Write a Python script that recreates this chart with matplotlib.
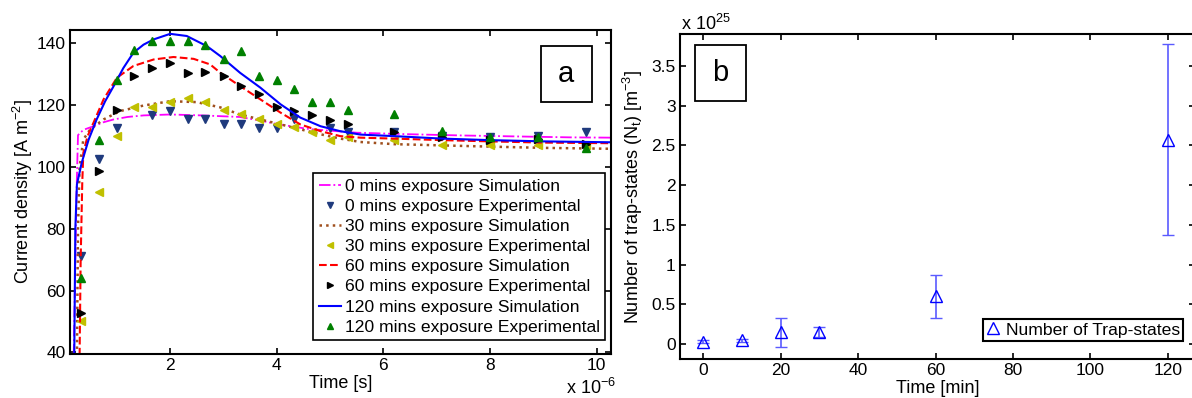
import matplotlib
matplotlib.use("Agg")
import matplotlib.pyplot as plt
from matplotlib.patches import Rectangle
import numpy as np

plt.rcParams['font.family'] = ['Liberation Sans', 'DejaVu Sans']
plt.rcParams['mathtext.fontset'] = 'custom'
plt.rcParams['mathtext.rm'] = 'Liberation Sans'
plt.rcParams['mathtext.it'] = 'Liberation Sans:italic'

# ---- panel a: current density transients (time in units of 1e-6 s)
t_exp = [0.33, 0.66, 1.0, 1.33, 1.66, 2.0, 2.33, 2.66, 3.0, 3.33, 3.66,
         4.0, 4.33, 4.66, 5.0, 5.33, 6.2, 7.1, 8.0, 8.9, 9.8]
exp_0 = [71.2, 102.7, 112.7, np.nan, 116.8, 118.0, 115.4, 115.4, 113.9, 113.9, 112.7,
         112.7, 115.4, np.nan, 112.6, 111.3, 111.4, 110.0, 109.8, 110.0, 111.3]
exp_30 = [50.1, 91.9, 109.9, 119.5, 119.5, 121.1, 122.4, 121.0, 118.3, 117.0, 115.4,
          113.9, 112.9, 111.3, 108.6, 109.8, 108.6, 107.1, 107.1, 107.1, 107.1]
exp_60 = [52.7, 98.6, 118.3, 129.3, 132.0, 133.6, 130.5, 130.6, 129.3, 126.3, 123.5,
          119.5, 118.2, 116.8, 115.3, 114.0, 111.3, 109.8, 108.8, 109.0, 107.5]
exp_120 = [64.0, 108.7, 128.1, 137.8, 140.9, 140.9, 140.9, 139.4, 135.1, 137.5, 129.4,
           128.3, 125.3, 121.2, 121.2, 118.4, 117.0, 111.6, 109.6, 109.8, 106.0]

t_sim_0 = [0.19, 0.24, 0.27, 0.32, 0.40, 0.56, 0.75, 0.94, 1.2, 1.5, 2.0, 2.6, 3.3,
           3.7, 4.0, 4.6, 5.5, 6.5, 7.5, 8.5, 9.5, 10.3]
sim_0 = [39, 90, 110.3, 111.3, 112.2, 113.2, 114.5, 115.4, 116.2, 116.7, 117.0, 116.7,
         116.2, 115.0, 113.9, 112.3, 111.1, 110.6, 110.2, 109.9, 109.6, 109.5]
t_sim_30 = [0.25, 0.27, 0.30, 0.37, 0.5, 0.75, 1.06, 1.5, 2.0, 2.5, 2.94, 3.31, 3.69,
            4.07, 4.44, 4.82, 5.19, 5.57, 6.2, 7.1, 8.0, 9.0, 10.3]
sim_30 = [39, 80, 100, 108.9, 112.2, 115.4, 118.1, 119.9, 121.3, 121.0, 119.3, 117.0,
          115.4, 113.8, 112.2, 110.6, 109.2, 108.1, 107.4, 107.0, 106.6, 106.2, 105.9]
t_sim_60 = [0.30, 0.32, 0.35, 0.37, 0.45, 0.56, 0.75, 1.0, 1.31, 1.69, 2.06, 2.44, 2.75,
            2.94, 3.31, 3.69, 4.07, 4.44, 4.82, 5.19, 5.57, 6.2, 7.1, 8.0, 9.0, 10.3]
sim_60 = [39, 70, 95, 104.6, 110.0, 114.3, 121.9, 128.9, 132.7, 134.8, 135.6, 135.0, 133.2,
          130.5, 126.2, 121.9, 117.6, 113.8, 111.6, 110.0, 109.5, 109.2, 108.7, 108.3, 107.9, 107.7]
t_sim_120 = [0.20, 0.22, 0.25, 0.34, 0.47, 0.62, 0.78, 0.94, 1.12, 1.31, 1.5, 1.69, 2.0,
             2.31, 2.69, 2.94, 3.31, 3.69, 4.07, 4.44, 4.82, 5.19, 5.57, 6.2, 7.1, 8.0, 9.0, 10.3]
sim_120 = [39, 80, 94.4, 101.4, 108.9, 115.4, 121.3, 126.2, 132.0, 137.0, 139.6, 141.3, 143.1,
           142.4, 139.1, 135.9, 130.5, 125.7, 120.3, 116.0, 113.2, 111.6, 110.5, 110.0, 109.2,
           108.7, 108.3, 108.0]

# ---- panel b: trap-state density (units of 1e25 m^-3)
exposure_min = [0, 10, 20, 30, 60, 120]
trap_states = [0.03, 0.05, 0.15, 0.15, 0.6, 2.57]
trap_err = [0.02, 0.02, 0.18, 0.06, 0.265, 1.2]

fig = plt.figure(figsize=(11.92, 3.98), dpi=100)
W, H = 1192, 398

def px_axes(l, t, r, b):
    return fig.add_axes([l / W, 1 - b / H, (r - l) / W, (b - t) / H])

ax = px_axes(70, 29.5, 611, 354)
ax.plot(t_sim_0, sim_0, color='#ff00ff', ls='-.', lw=1.3, label='0 mins exposure Simulation')
ax.plot(t_exp, exp_0, ls='none', marker='v', ms=5.5, color='#1f3a7d', label='0 mins exposure Experimental')
ax.plot(t_sim_30, sim_30, color='#a0501e', ls=':', lw=1.8, label='30 mins exposure Simulation')
ax.plot(t_exp, exp_30, ls='none', marker='<', ms=5.5, color='#c0c000', label='30 mins exposure Experimental')
ax.plot(t_sim_60, sim_60, color='#ff0000', ls='--', lw=1.5, label='60 mins exposure Simulation')
ax.plot(t_exp, exp_60, ls='none', marker='>', ms=5.5, color='black', label='60 mins exposure Experimental')
ax.plot(t_sim_120, sim_120, color='#0000ff', ls='-', lw=1.5, label='120 mins exposure Simulation')
ax.plot(t_exp, exp_120, ls='none', marker='^', ms=5.5, color='#008000', label='120 mins exposure Experimental')

ax.set_xlim(0.12, 10.27)
ax.set_ylim(39.5, 144.5)
ax.set_xticks([2, 4, 6, 8, 10])
ax.set_yticks([40, 60, 80, 100, 120, 140])
ax.set_xlabel('Time [s]', fontsize=13, labelpad=1)
ax.set_ylabel('Current density [A m$^{-2}$]', fontsize=13, labelpad=1)
leg = ax.legend(loc='lower right', bbox_to_anchor=(0.989, 0.043), borderaxespad=0,
                fontsize=12.6, handlelength=1.3, handletextpad=0.2, labelspacing=0.28,
                markerscale=0.7, fancybox=False, edgecolor='black', framealpha=1,
                borderpad=0.3)
leg.get_frame().set_linewidth(1.2)
ax.add_patch(Rectangle((0.870, 0.778), 0.095, 0.171, transform=ax.transAxes,
                       fill=False, edgecolor='black', lw=1.3))
ax.text(0.9175, 0.8635, 'a', transform=ax.transAxes, fontsize=21, ha='center', va='center')
fig.text(566 / W, 1 - 388 / H, r'x 10$^{-6}$', fontsize=13, va='center', ha='left')

axb = px_axes(680, 34, 1195, 359.3)
axb.errorbar(exposure_min, trap_states, yerr=trap_err, ls='none', marker='^', ms=9,
             mfc='none', mec='#0000ff', mew=1.0, ecolor='#5a5aff', elinewidth=1.2,
             capsize=4, capthick=1.2, label='Number of Trap-states')
axb.set_xlim(-6, 127)
axb.set_ylim(-0.19, 3.9)
axb.set_xticks([0, 20, 40, 60, 80, 100, 120])
axb.set_yticks([0, 0.5, 1, 1.5, 2, 2.5, 3, 3.5])
axb.set_yticklabels(['0', '0.5', '1', '1.5', '2', '2.5', '3', '3.5'])
axb.set_xlabel('Time [min]', fontsize=13, labelpad=1)
axb.set_ylabel(r'Number of trap-states (N$_\mathrm{t}$) [m$^{-3}$]', fontsize=13, labelpad=5)
handles, labels = axb.get_legend_handles_labels()
legb = axb.legend([handles[0][0]], labels, loc='lower right', bbox_to_anchor=(0.977, 0.056),
                  borderaxespad=0, fontsize=12.6, handlelength=0.8, handletextpad=0.3,
                  fancybox=False, edgecolor='black', framealpha=1, borderpad=0.2)
legb.get_frame().set_linewidth(1.5)
axb.add_patch(Rectangle((0.029, 0.795), 0.099, 0.171, transform=axb.transAxes,
                        fill=False, edgecolor='black', lw=1.3))
axb.text(0.0785, 0.8805, 'b', transform=axb.transAxes, fontsize=21, ha='center', va='center')
fig.text(681 / W, 1 - 24 / H, r'x 10$^{25}$', fontsize=13, va='center', ha='left')

for a in (ax, axb):
    a.tick_params(direction='in', top=True, right=True, length=4, width=1.2,
                  labelsize=12.5, pad=3)
    for s in a.spines.values():
        s.set_linewidth(1.5)

fig.savefig('out.png', dpi=100)
